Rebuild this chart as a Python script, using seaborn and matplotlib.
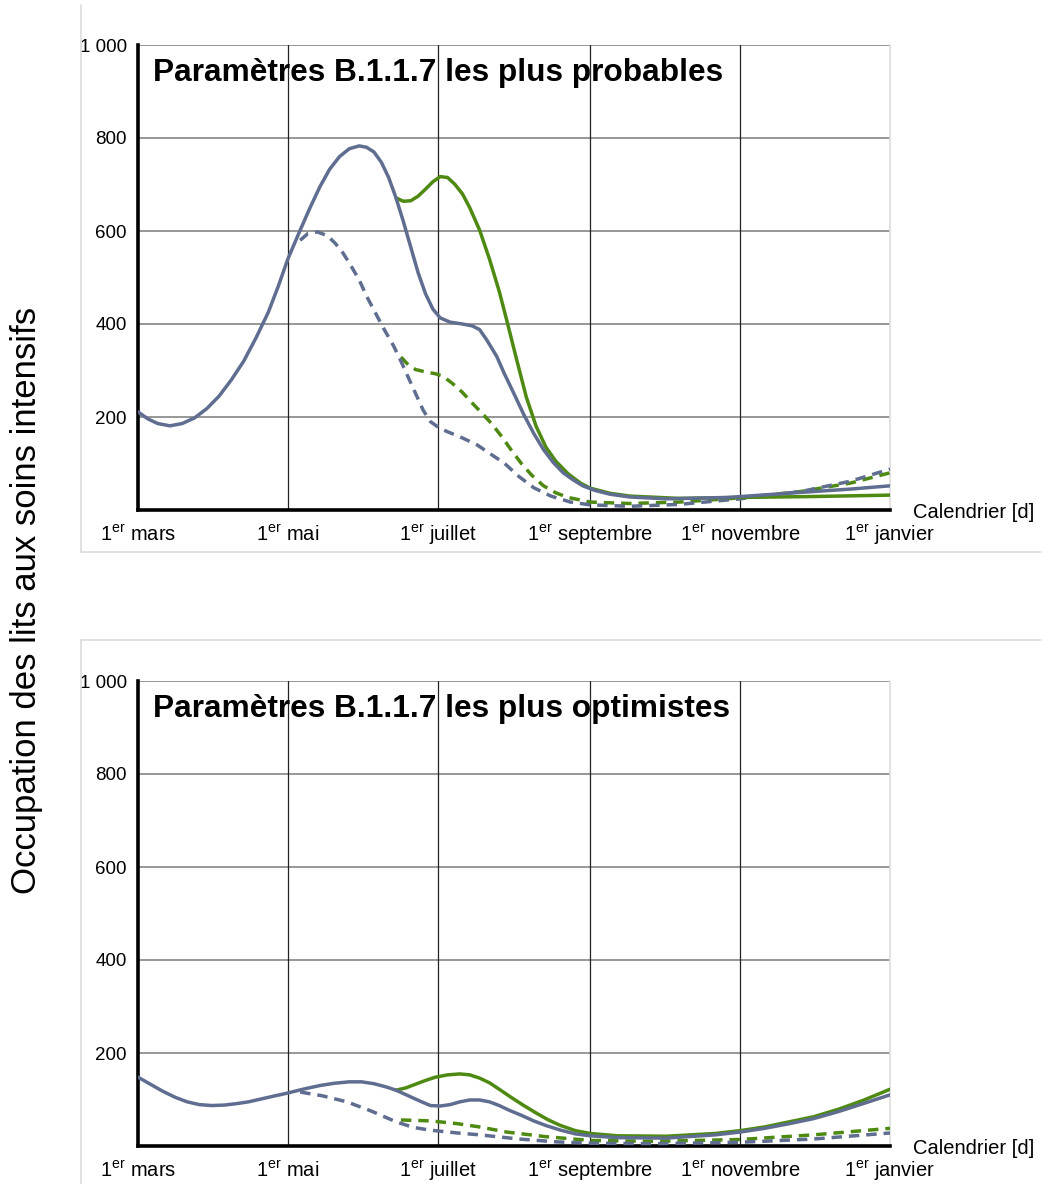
import numpy as np
import pandas as pd
import seaborn as sns
import matplotlib.pyplot as plt
from matplotlib.lines import Line2D

# days counted from 1 March
month_days = [0, 61, 122, 184, 245, 306]
month_labels = [r'1$^{\mathrm{er}}$ mars', r'1$^{\mathrm{er}}$ mai', r'1$^{\mathrm{er}}$ juillet',
                r'1$^{\mathrm{er}}$ septembre', r'1$^{\mathrm{er}}$ novembre', r'1$^{\mathrm{er}}$ janvier']
y_ticks = [200, 400, 600, 800, 1000]
y_labels = ['200', '400', '600', '800', '1 000']

# top panel: most probable parameters
p1_blue_day = [0, 4, 8, 13, 18, 23, 28, 33, 38, 43, 48, 53, 57, 61, 66, 70, 74, 78, 82, 86, 90, 93, 96, 99,
               102, 105, 108, 111, 114, 117, 120, 123, 127, 132, 136, 139, 142, 146, 149, 153, 157, 161,
               165, 169, 173, 177, 181, 186, 192, 200, 215, 240, 270, 290, 306]
p1_blue = [211, 196, 186, 181, 186, 198, 218, 245, 280, 320, 370, 425, 480, 540, 602, 650, 695, 733, 760,
           777, 783, 780, 770, 748, 715, 671, 620, 565, 510, 465, 432, 413, 404, 400, 396, 388, 365, 330,
           294, 250, 205, 165, 130, 102, 80, 65, 52, 42, 34, 28, 24, 27, 38, 45, 52]
p1_green_day = [105, 108, 111, 114, 117, 120, 123, 126, 129, 132, 135, 139, 143, 147, 150, 154, 158, 162,
                166, 170, 175, 180, 184, 192, 200, 220, 245, 275, 306]
p1_green = [671, 664, 665, 675, 690, 706, 717, 715, 700, 680, 650, 602, 540, 470, 409, 325, 243, 180,
            135, 105, 78, 58, 47, 36, 30, 25, 27, 29, 32]
p1_blue_d_day = [66, 69, 73, 77, 80, 83, 86, 90, 93, 97, 100, 104, 107, 110, 113, 116, 119, 123, 127, 132,
                 138, 143, 149, 155, 161, 168, 176, 184, 200, 220, 245, 270, 290, 306]
p1_blue_d = [580, 594, 598, 590, 575, 556, 531, 495, 460, 420, 390, 353, 320, 285, 250, 215, 190, 175,
             166, 155, 140, 122, 101, 72, 48, 30, 17, 11, 8, 12, 24, 40, 62, 88]
p1_green_d_day = [107, 110, 113, 117, 121, 124, 128, 132, 136, 140, 144, 148, 152, 156, 160, 165, 170,
                  175, 184, 200, 220, 245, 270, 290, 306]
p1_green_d = [329, 312, 302, 297, 293, 288, 272, 253, 230, 208, 185, 158, 128, 100, 76, 52, 37, 27, 17,
              14, 17, 26, 40, 58, 80]

# bottom panel: most optimistic parameters
p2_blue_day = [0, 5, 10, 15, 20, 25, 30, 35, 40, 45, 50, 55, 61, 67, 74, 80, 86, 91, 96, 101, 105, 110,
               115, 119, 123, 127, 131, 135, 139, 143, 147, 151, 156, 161, 166, 172, 178, 184, 195, 215,
               235, 245, 255, 265, 275, 285, 295, 306]
p2_blue = [148, 133, 118, 105, 95, 89, 87, 88, 91, 95, 101, 107, 114, 122, 130, 135, 138, 138, 134, 127,
           120, 108, 96, 87, 86, 89, 95, 99, 99, 95, 87, 77, 66, 54, 44, 34, 26, 22, 18, 17, 24, 30, 38,
           48, 59, 74, 91, 110]
p2_green_day = [105, 109, 113, 117, 121, 126, 131, 135, 139, 143, 147, 152, 157, 162, 167, 172, 178, 184,
                195, 215, 235, 245, 255, 265, 275, 285, 295, 306]
p2_green = [120, 125, 133, 141, 148, 153, 155, 153, 146, 136, 122, 104, 87, 71, 56, 44, 33, 27, 22, 21,
            27, 33, 41, 52, 63, 79, 98, 122]
p2_blue_d_day = [66, 75, 85, 95, 105, 112, 119, 130, 139, 155, 170, 184, 210, 245, 275, 306]
p2_blue_d = [116, 108, 95, 75, 52, 40, 34, 28, 24, 15, 9, 6, 5, 8, 15, 28]
p2_green_d_day = [107, 119, 130, 139, 150, 166, 184, 210, 245, 275, 306]
p2_green_d = [56, 54, 48, 41, 30, 20, 12, 10, 14, 24, 38]

blue = '#5f6d90'
green = '#4e8a12'

sns.set_style('white')
plt.rcParams['font.family'] = ['Liberation Sans', 'DejaVu Sans']
plt.rcParams['mathtext.fontset'] = 'custom'
plt.rcParams['mathtext.rm'] = 'Liberation Sans'
plt.rcParams['text.color'] = 'black'
plt.rcParams['xtick.color'] = 'black'
plt.rcParams['ytick.color'] = 'black'

fig = plt.figure(figsize=(10.48, 11.84), dpi=100)
ax1 = fig.add_axes([138 / 1048, 1 - 510 / 1184, 752 / 1048, 465 / 1184])
ax2 = fig.add_axes([138 / 1048, 1 - 1146 / 1184, 752 / 1048, 465 / 1184])

panels = [
    (ax1, 'Paramètres B.1.1.7 les plus probables',
     (p1_green_day, p1_green), (p1_blue_day, p1_blue), (p1_green_d_day, p1_green_d), (p1_blue_d_day, p1_blue_d)),
    (ax2, 'Paramètres B.1.1.7 les plus optimistes',
     (p2_green_day, p2_green), (p2_blue_day, p2_blue), (p2_green_d_day, p2_green_d), (p2_blue_d_day, p2_blue_d)),
]

dash = (0, (3.0, 2.0))
for ax, title, g, b, gd, bd in panels:
    for (xs, ys), col, ls in [(gd, green, dash), (bd, blue, dash), (g, green, '-'), (b, blue, '-')]:
        df = pd.DataFrame({'day': xs, 'lits': ys})
        sns.lineplot(data=df, x='day', y='lits', ax=ax, color=col, linestyle=ls, linewidth=2.5, zorder=3)

    ax.set_xlim(0, 306)
    ax.set_ylim(0, 1000)
    ax.set_xticks(month_days)
    ax.set_xticklabels(month_labels, fontsize=14.5)
    for lab in ax.get_xticklabels():
        lab.set_va('baseline')
    ax.set_yticks(y_ticks)
    ax.set_yticklabels(y_labels, fontsize=13.5)
    ax.set_xlabel('')
    ax.set_ylabel('')
    for y in y_ticks:
        ax.axhline(y, color='#7a7a7a', linewidth=1.1, zorder=1)
    for x in month_days[1:-1]:
        ax.axvline(x, color='#222222', linewidth=0.9, zorder=1)
    ax.tick_params(axis='y', direction='out', length=4, width=2, color='#888888', pad=4)
    ax.tick_params(axis='x', direction='out', length=4, width=2, color='#888888', pad=18)
    ax.spines['left'].set_linewidth(2.6)
    ax.spines['bottom'].set_linewidth(2.6)
    ax.spines['left'].set_color('black')
    ax.spines['bottom'].set_color('black')
    ax.spines['top'].set_visible(False)
    ax.spines['right'].set_color('#dddddd')
    ax.spines['right'].set_linewidth(1.2)
    ax.text(0.02, 0.94, title, transform=ax.transAxes, fontsize=22.8, fontweight='bold',
            va='center', ha='left', zorder=4)
    ax.text(1.03, -0.005, 'Calendrier [d]', transform=ax.transAxes, fontsize=14.5, va='center', ha='left')

fig.text(27 / 1048, 1 - 600 / 1184, 'Occupation des lits aux soins intensifs', rotation=90,
         fontsize=25, va='center', ha='center')

# faint frame lines of the two pasted panels
fc = '#dcdcdc'
fig.add_artist(Line2D([81 / 1048, 81 / 1048], [1 - 5 / 1184, 1 - 552 / 1184], color=fc, lw=1.2))
fig.add_artist(Line2D([81 / 1048, 1041 / 1048], [1 - 552 / 1184, 1 - 552 / 1184], color=fc, lw=1.2))
fig.add_artist(Line2D([81 / 1048, 1041 / 1048], [1 - 640 / 1184, 1 - 640 / 1184], color=fc, lw=1.2))
fig.add_artist(Line2D([81 / 1048, 81 / 1048], [1 - 640 / 1184, 0], color=fc, lw=1.2))

plt.savefig('out.png', dpi=100)
